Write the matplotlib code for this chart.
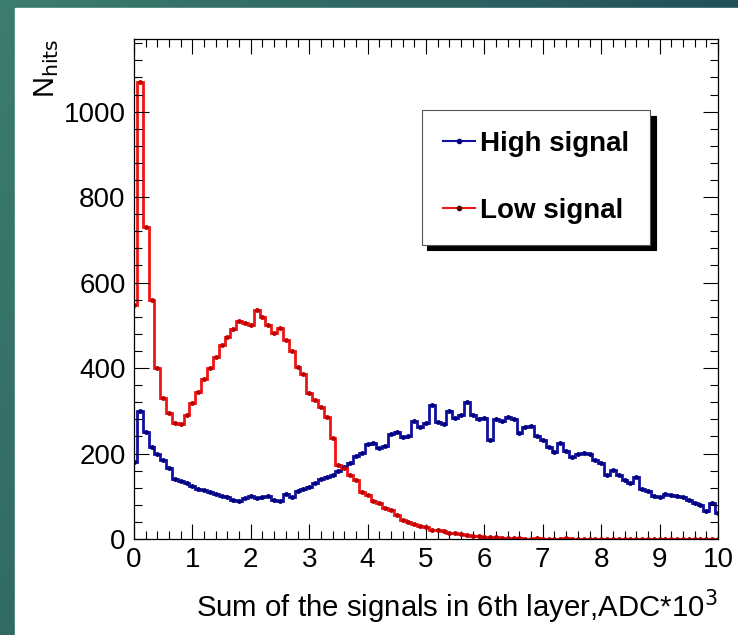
import numpy as np
import matplotlib
matplotlib.use('Agg')
import matplotlib.pyplot as plt
from matplotlib.patches import Rectangle
from matplotlib.ticker import MultipleLocator

plt.rcParams['font.family'] = ['Liberation Sans', 'DejaVu Sans']

# bin centres 0.0 .. 10.0, width 0.1
centers = np.round(np.arange(0, 10.01, 0.1), 2)
edges = np.append(centers - 0.05, centers[-1] + 0.05)

high_signal = [
    180, 300, 250, 215, 200, 185, 165, 140, 135, 130,
    125, 118, 115, 110, 105, 100, 98, 92, 90, 95,
    100, 95, 98, 100, 92, 88, 105, 98, 112, 118,
    122, 130, 140, 145, 150, 160, 168, 178, 195, 201,
    222, 225, 212, 218, 245, 250, 238, 242, 275, 262,
    272, 314, 274, 270, 300, 283, 290, 321, 290, 280,
    283, 232, 280, 275, 285, 280, 248, 262, 265, 240,
    232, 215, 204, 225, 205, 192, 198, 201, 200, 185,
    178, 150, 162, 150, 138, 131, 145, 118, 112, 100,
    98, 105, 103, 100, 98, 91, 85, 80, 65, 84,
    61,
]

low_signal = [
    548, 1070, 730, 560, 400, 330, 295, 272, 268, 290,
    318, 345, 375, 400, 425, 455, 472, 492, 510, 505,
    500, 536, 520, 500, 482, 494, 465, 440, 403, 385,
    342, 325, 309, 286, 237, 173, 166, 150, 138, 110,
    103, 90, 84, 72, 68, 55, 44, 40, 34, 30,
    27, 22, 20, 18, 15, 14, 11, 9, 7, 6,
    5, 4, 4, 3, 2, 2, 2, 1, 1, 2,
    1, 1, 1, 1, 2, 1, 1, 1, 1, 1,
    1, 1, 1, 1, 1, 1, 1, 1, 1, 1,
    1, 1, 1, 1, 1, 1, 1, 1, 1, 1,
    1,
]

W, H = 738, 635
fig = plt.figure(figsize=(W / 100, H / 100), dpi=100)

# teal gradient frame behind a white panel
bg = fig.add_axes([0, 0, 1, 1], zorder=-10)
gx, gy = np.meshgrid(np.linspace(0, 1, 200), np.linspace(0, 1, 200))
t = np.clip(0.85 * gx + 0.35 * (1 - gy), 0, 1)[..., None]
c0 = np.array([60, 125, 110]) / 255
c1 = np.array([30, 72, 86]) / 255
bg.imshow(c0 * (1 - t) + c1 * t, aspect='auto', origin='lower', extent=[0, 1, 0, 1])
bg.add_patch(Rectangle((15 / W, 0), 1, 1 - 8 / H, color='white', transform=bg.transAxes))
bg.set_xlim(0, 1)
bg.set_ylim(0, 1)
bg.axis('off')

ax = fig.add_axes([134 / W, 1 - 539 / H, 584 / W, 500 / H])
blue = '#1010a0'
red = '#f01414'
ax.stairs(high_signal, edges, color=blue, lw=2.0)
ax.stairs(low_signal, edges, color=red, lw=2.0)
ax.plot(centers, high_signal, 'o', color='#000080', ms=2.5, lw=0)
ax.plot(centers, low_signal, 'o', color='#c00000', ms=2.5, lw=0)

# legend proxies
ax.plot([], [], '-o', color=blue, mfc='#000080', mec='#000080', ms=3, lw=1.5, label='High signal')
ax.plot([], [], '-o', color=red, mfc='#400000', mec='#400000', ms=3, lw=1.5, label='Low signal')

ax.set_xlim(0, 10)
ax.set_ylim(0, 1170)
ax.xaxis.set_major_locator(MultipleLocator(1))
ax.xaxis.set_minor_locator(MultipleLocator(0.2))
ax.yaxis.set_major_locator(MultipleLocator(200))
ax.yaxis.set_minor_locator(MultipleLocator(40))
ax.tick_params(which='both', direction='in', top=True, right=True, labelsize=20, width=0.8)
ax.tick_params(which='major', length=11, pad=6)
ax.tick_params(which='minor', length=5.5)
for s in ax.spines.values():
    s.set_linewidth(0.9)

ax.set_xlabel('Sum of the signals in 6th layer,ADC*10$^3$', fontsize=21.2, loc='right', labelpad=10)
ax.set_ylabel(r'N$_{\mathrm{hits}}$', fontsize=21, loc='top', labelpad=2)

leg = ax.legend(loc='upper left', bbox_to_anchor=(0.493, 0.858), frameon=True,
                fancybox=False, shadow={'color': 'black', 'ox': 4, 'oy': -4, 'alpha': 1},
                edgecolor='#555555', prop={'weight': 'bold', 'size': 20},
                handlelength=1.15, handletextpad=0.2, labelspacing=1.48,
                borderpad=0.75, borderaxespad=0)
leg.get_frame().set_linewidth(0.8)

fig.savefig('out.png', dpi=100)
